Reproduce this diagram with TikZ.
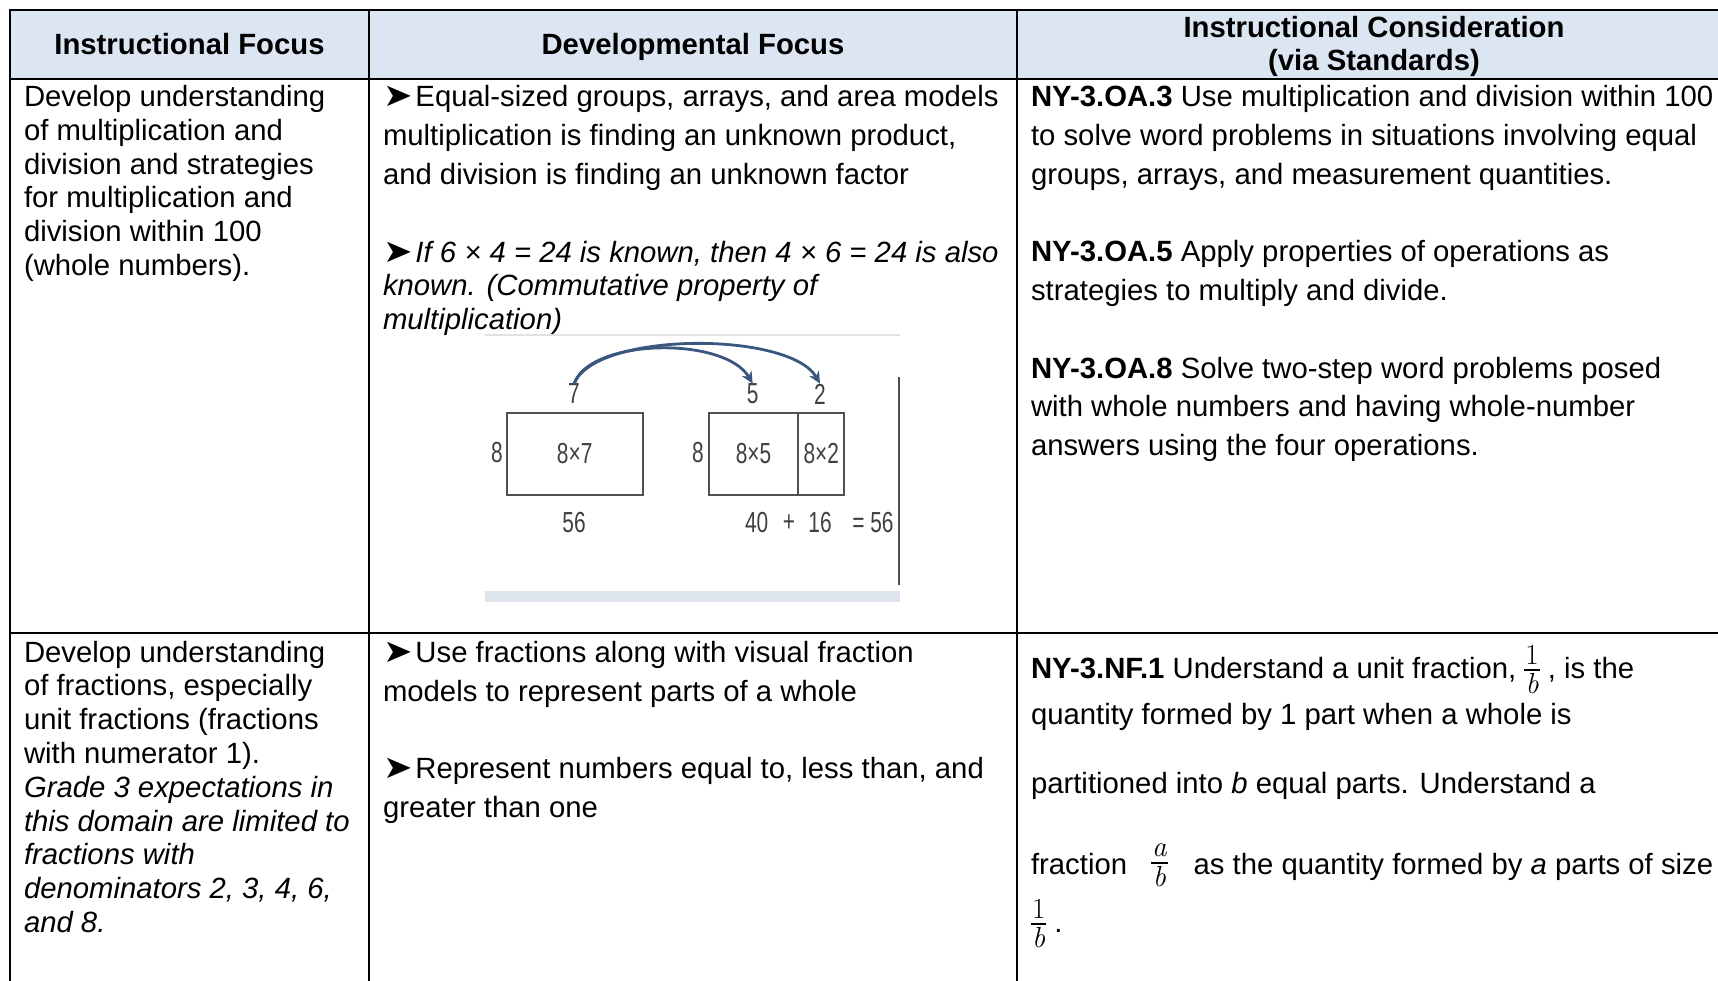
\documentclass[tikz,border=0pt]{standalone}
\usepackage[no-math]{fontspec}
\usepackage{graphicx}
\setmainfont{Liberation Sans}
\newfontfamily\arrowfont{DejaVu Sans}
\newfontfamily\imgfont[FakeStretch=0.72]{Liberation Sans}
\usetikzlibrary{arrows.meta}
\definecolor{hdr}{HTML}{DCE6F2}
\definecolor{imgtxt}{HTML}{404040}
\definecolor{imgline}{HTML}{505050}
\definecolor{arcblue}{HTML}{3A5780}
\definecolor{strip}{HTML}{DDE4EC}
\definecolor{faint}{HTML}{E2E2E2}
\newcommand\arr{\scalebox{1.2}[1.1]{\arrowfont\upshape ➤}\kern3pt}
\newcommand\fr[2]{\ensuremath{\vcenter{\hbox{\fontsize{29}{18}\fontfamily{lmr}\selectfont\setlength\arrayrulewidth{1.8pt}\setlength\tabcolsep{1pt}\begin{tabular}{c}#1\\\hline\rule{0pt}{22pt}#2\end{tabular}}}}}
\tikzset{
  ln/.style={anchor=base west, inner sep=0pt, outer sep=0pt, font=\fontsize{29.3}{34}\selectfont},
  itl/.style={ln, font=\fontsize{29.3}{34}\selectfont\itshape},
  hd/.style={anchor=base, inner sep=0pt, font=\fontsize{29.3}{34}\selectfont\bfseries},
  grid/.style={line width=2.2pt, draw=black},
  imgt/.style={inner sep=0pt, text=imgtxt, font=\imgfont\fontsize{29}{29}\selectfont},
  ibox/.style={draw=imgline, line width=1.8pt, inner sep=0pt, text=imgtxt, font=\imgfont\fontsize{29}{29}\selectfont},
  arc/.style={draw=arcblue, line width=2.8pt, -{Stealth[length=12pt,width=11pt]}},
}
\newcommand\para[6][ln]{%
  \foreach \t [count=\k] in {#6} {
    \node[#1, name=#2\k] at (#3, {#4+(\k-1)*#5}) {\t};
  }%
}
\begin{document}
\begin{tikzpicture}[x=1pt,y=-1pt]
\useasboundingbox (0,0) rectangle (1718,980);
\fill[white] (0,0) rectangle (1718,980);
% header fill
\fill[hdr] (10,10) rectangle (1725,79);
% grid
\draw[grid] (10,990) -- (10,10) -- (1725,10);
\draw[grid] (10,79) -- (1725,79);
\draw[grid] (10,633) -- (1725,633);
\draw[grid] (369,10) -- (369,990);
\draw[grid] (1017,10) -- (1017,990);
% header
\node[hd, name=h1] at (189.5,54) {Instructional Focus};
\node[hd, name=h2] at (693,54) {Developmental Focus};
\node[hd, name=h3] at (1374,37) {Instructional Consideration};
\node[hd, name=h4] at (1374,70) {(via Standards)};
% row 1 col 1
\para{a}{24}{106.4}{33.8}{{Develop understanding},{of multiplication and},{division and strategies},{for multiplication and},{division within 100},{(whole numbers).}}
% row 1 col 2
\para{b}{383}{106.4}{38.9}{{\arr Equal-sized groups, arrays, and area models},{multiplication is finding an unknown product,},{and division is finding an unknown factor}}
\para[itl]{c}{383}{262}{33.7}{{\arr If 6 × 4 = 24 is known, then 4 × 6 = 24 is also},{known. (Commutative property of},{multiplication)}}
% picture
\fill[white] (485,334) rectangle (900,602);
\draw[faint, line width=2pt] (485,335) -- (900,335);
\fill[strip] (485,591) rectangle (900,602);
\draw[imgline, line width=2pt] (899,377) -- (899,585);
\node[ibox, minimum width=136pt, minimum height=82pt] (r1) at (574.7,453.8) {8×7};
\node[ibox, minimum width=89.6pt, minimum height=82pt] (r2) at (753.5,453.8) {8×5};
\node[ibox, minimum width=45.7pt, minimum height=82pt] (r3) at (821.2,453.8) {8×2};
\node[imgt] (l8a) at (497,453) {8};
\node[imgt] (l8b) at (698,453) {8};
\node[imgt] (t7) at (574,394) {7};
\node[imgt] (t5) at (752.7,394) {5};
\node[imgt] (t2) at (820,394) {2};
\node[imgt] (s56) at (574,523) {56};
\node[imgt] (s40) at (756.7,523) {40};
\node[imgt] (splus) at (789,523) {+};
\node[imgt] (s16) at (820,523) {16};
\node[imgt] (seq) at (873,523) {= 56};
\draw[arc] (t7.north) .. controls (590,338) and (725,336) .. (t5.north);
\draw[arc] (t7.north) .. controls (595,331) and (790,331) .. (t2.north);
% row 1 col 3
\para{d}{1031}{106.4}{38.9}{{\textbf{NY-3.OA.3} Use multiplication and division within 100},{to solve word problems in situations involving equal},{groups, arrays, and measurement quantities.}}
\para{e}{1031}{261.5}{38.9}{{\textbf{NY-3.OA.5} Apply properties of operations as},{strategies to multiply and divide.}}
\para{f}{1031}{378}{38.9}{{\textbf{NY-3.OA.8} Solve two-step word problems posed},{with whole numbers and having whole-number},{answers using the four operations.}}
% row 2 col 1
\para{g}{24}{662}{33.8}{{Develop understanding},{of fractions, especially},{unit fractions (fractions},{with numerator 1).}}
\para[itl]{h}{24}{797.2}{33.8}{{Grade 3 expectations in},{this domain are limited to},{fractions with},{denominators 2, 3, 4, 6,},{and 8.}}
% row 2 col 2
\para{i}{383}{662}{39.4}{{\arr Use fractions along with visual fraction},{models to represent parts of a whole}}
\para{j}{383}{778}{39.4}{{\arr Represent numbers equal to, less than, and},{greater than one}}
% row 2 col 3
\node[ln, name=k1] at (1031,678) {\textbf{NY-3.NF.1} Understand a unit fraction, \fr{1}{\itshape b} , is the};
\node[ln, name=k2] at (1031,724) {quantity formed by 1 part when a whole is};
\node[ln, name=k3] at (1031,793) {partitioned into \textit{b} equal parts. Understand a};
\node[ln, name=k4] at (1031,874) {fraction\hspace{24pt}\fr{\itshape a}{\itshape b}\hspace{26pt}as the quantity formed by \textit{a} parts of size};
\node[ln, name=k5] at (1031,932) {\fr{1}{\itshape b} .};
\end{tikzpicture}
\end{document}
